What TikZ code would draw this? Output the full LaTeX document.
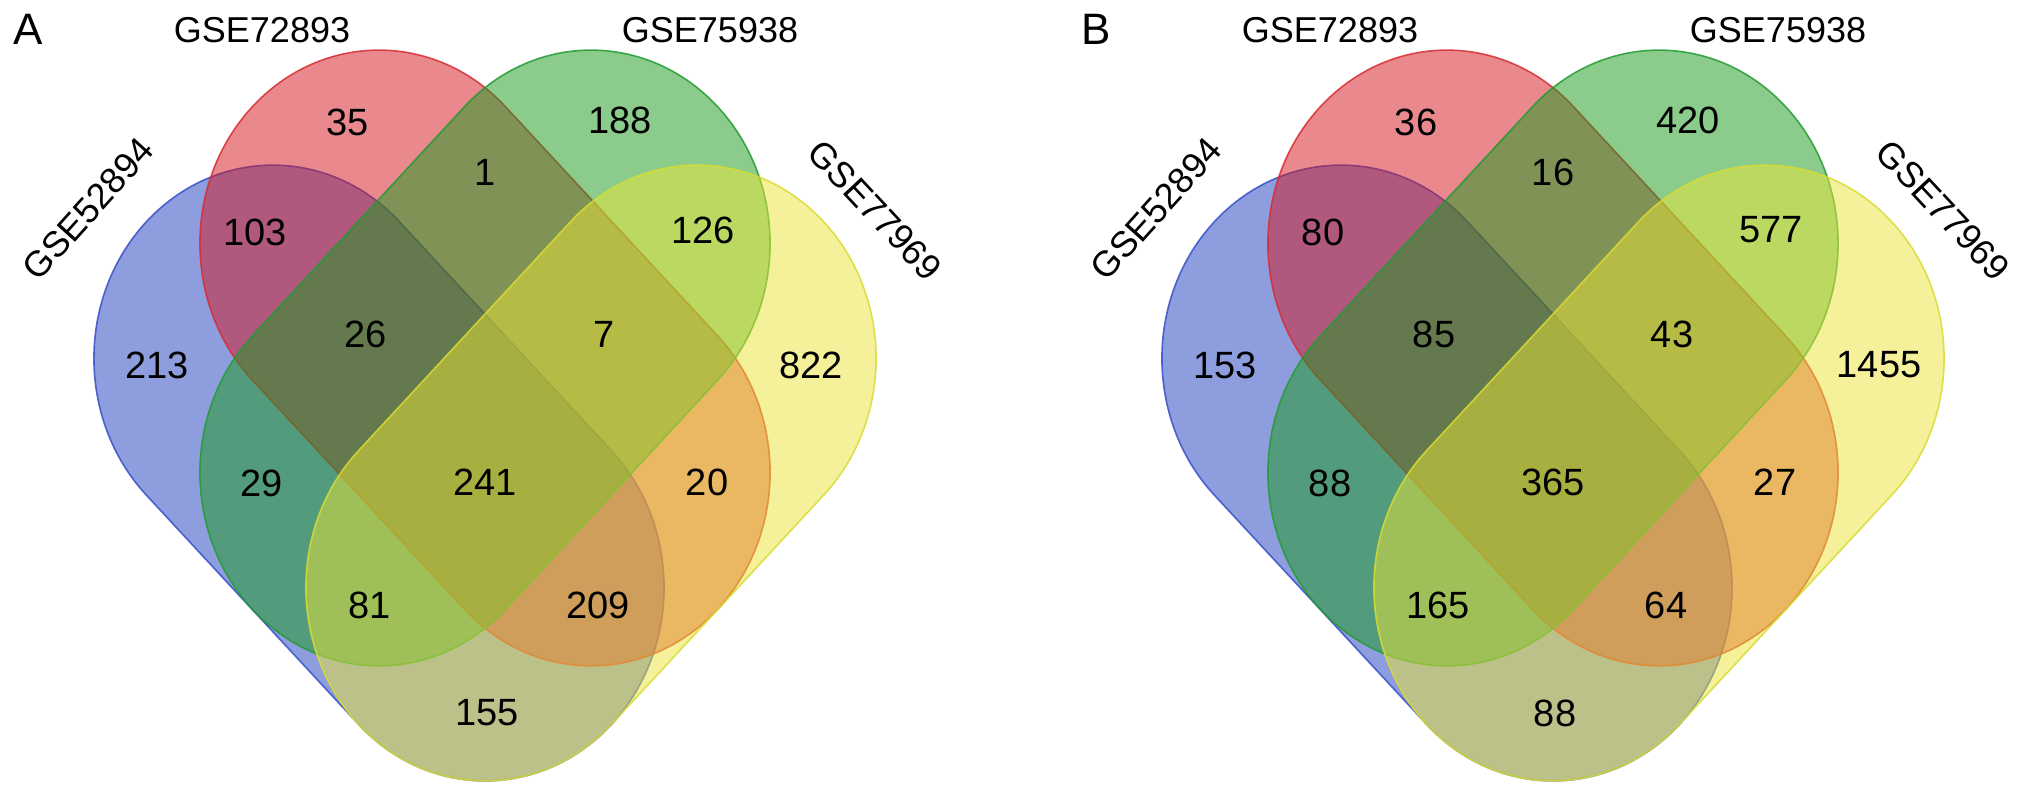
\documentclass[tikz,border=0pt]{standalone}
\usepackage{fontspec}
\setmainfont{Liberation Sans}
\definecolor{cBlue}{RGB}{30,60,190}
\definecolor{cRed}{RGB}{213,21,31}
\definecolor{cGreen}{RGB}{25,155,29}
\definecolor{cYellow}{RGB}{235,229,55}
\definecolor{lBlue}{RGB}{55,80,200}
\definecolor{lRed}{RGB}{215,45,50}
\definecolor{lGreen}{RGB}{35,155,50}
\definecolor{lYellow}{RGB}{215,220,50}
\newcommand{\vcapsule}[5]{%
  \path[vset, fill=#1, draw=#2, shift={(#3,#4)}, yscale=1.08, rotate=#5]
    (-150,-179) -- (150,-179) arc[start angle=-90,end angle=90,radius=179]
    -- (-150,179) arc[start angle=90,end angle=270,radius=179] -- cycle;}
\begin{document}
\begin{tikzpicture}[x=1pt,y=1pt,
  vset/.style={fill opacity=0.5, draw opacity=0.85, line width=1.6pt},
  num/.style={font=\fontsize{38}{38}\selectfont, inner sep=0pt},
  lab/.style={font=\fontsize{36}{36}\selectfont, inner sep=0pt},
  panel/.style={font=\fontsize{44}{44}\selectfont, inner sep=0pt}]
\useasboundingbox (0,0) rectangle (2031,798);
\fill[white] (0,0) rectangle (2031,798);
% ---------- Panel A ----------
\begin{scope}
\vcapsule{cBlue}{lBlue}{379}{325}{-45}
\vcapsule{cRed}{lRed}{485}{440}{-45}
\vcapsule{cGreen}{lGreen}{485}{440}{45}
\vcapsule{cYellow}{lYellow}{591}{325}{45}
\node[panel] (pA) at (28,769) {A};
\node[lab] (aL2) at (262,768) {GSE72893};
\node[lab] (aL3) at (710,768) {GSE75938};
\node[lab, rotate=48] (aL1) at (88,589) {GSE52894};
\node[lab, rotate=-47] (aL4) at (875,588) {GSE77969};
\node[num] (a35) at (348,676) {35};
\node[num] (a188) at (620,678) {188};
\node[num] (a1) at (485,626) {1};
\node[num] (a103) at (255,566) {103};
\node[num] (a126) at (703,568) {126};
\node[num] (a213) at (157,433) {213};
\node[num] (a822) at (811,433) {822};
\node[num] (a26) at (366,464) {26};
\node[num] (a7) at (604,464) {7};
\node[num] (a29) at (262,315) {29};
\node[num] (a241) at (485,316) {241};
\node[num] (a20) at (707,316) {20};
\node[num] (a81) at (370,193) {81};
\node[num] (a209) at (598,193) {209};
\node[num] (a155) at (487,85) {155};
\end{scope}
% ---------- Panel B ----------
\begin{scope}[xshift=1068]
\vcapsule{cBlue}{lBlue}{379}{325}{-45}
\vcapsule{cRed}{lRed}{485}{440}{-45}
\vcapsule{cGreen}{lGreen}{485}{440}{45}
\vcapsule{cYellow}{lYellow}{591}{325}{45}
\node[panel] (pB) at (28,769) {B};
\node[lab] (bL2) at (262,768) {GSE72893};
\node[lab] (bL3) at (710,768) {GSE75938};
\node[lab, rotate=48] (bL1) at (88,589) {GSE52894};
\node[lab, rotate=-47] (bL4) at (875,588) {GSE77969};
\node[num] (b36) at (348,676) {36};
\node[num] (b420) at (620,678) {420};
\node[num] (b16) at (485,626) {16};
\node[num] (b80) at (255,566) {80};
\node[num] (b577) at (703,568) {577};
\node[num] (b153) at (157,433) {153};
\node[num] (b1455) at (811,433) {1455};
\node[num] (b85) at (366,464) {85};
\node[num] (b43) at (604,464) {43};
\node[num] (b88a) at (262,315) {88};
\node[num] (b365) at (485,316) {365};
\node[num] (b27) at (707,316) {27};
\node[num] (b165) at (370,193) {165};
\node[num] (b64) at (598,193) {64};
\node[num] (b88b) at (487,85) {88};
\end{scope}
\end{tikzpicture}
\end{document}
